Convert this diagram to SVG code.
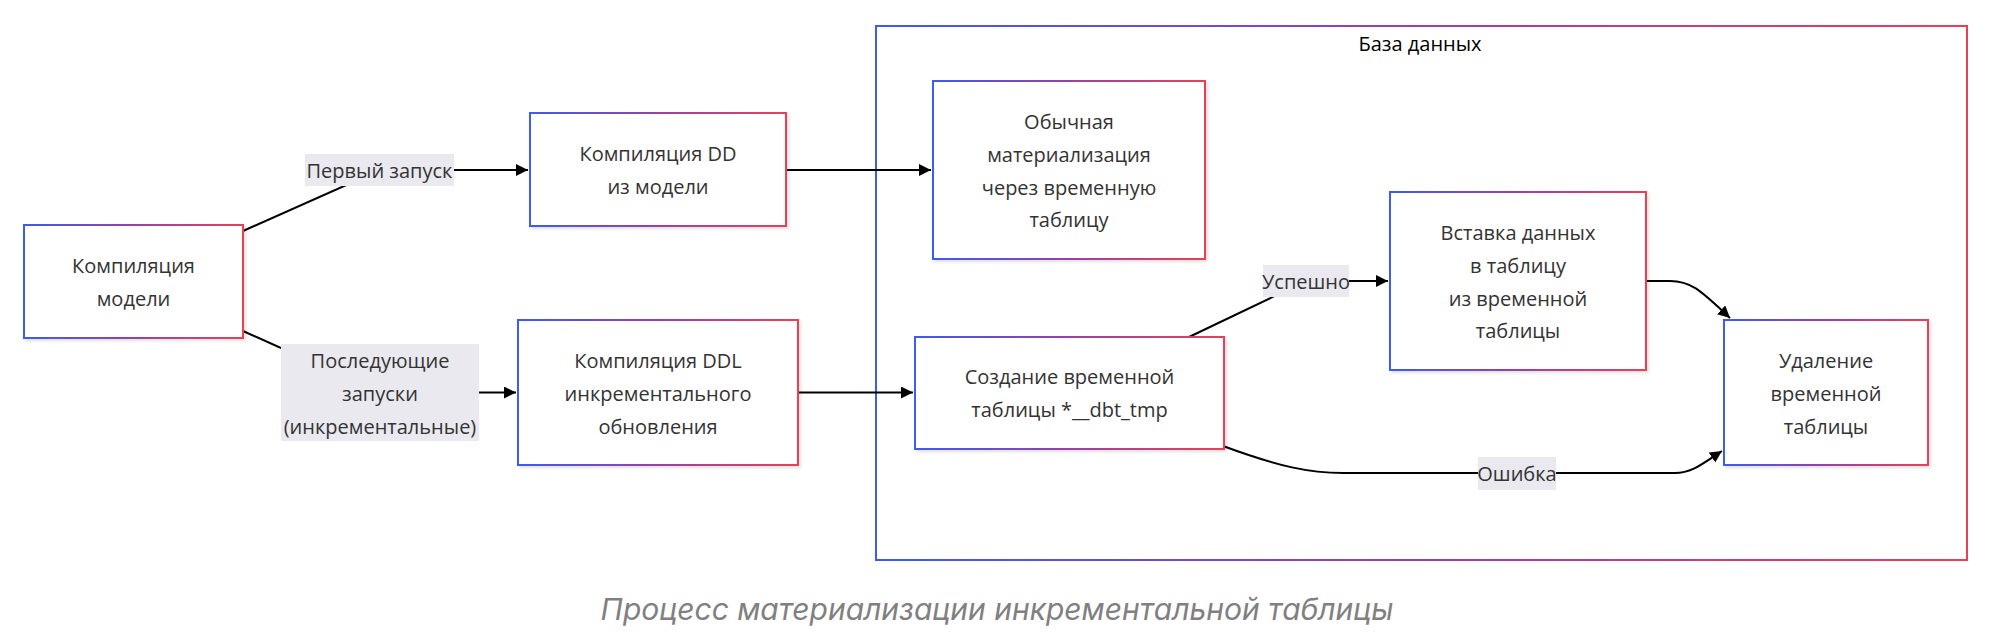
<svg xmlns="http://www.w3.org/2000/svg" width="1996" height="642" viewBox="0 0 1996 642">
<defs>
<linearGradient id="grad" x1="0" y1="0" x2="1" y2="0">
<stop offset="0" stop-color="#3b5bf5"/>
<stop offset="0.5" stop-color="#9b3fa8"/>
<stop offset="1" stop-color="#ea3f56"/>
</linearGradient>
<filter id="shadow" x="-5%" y="-5%" width="112%" height="115%">
<feDropShadow dx="2" dy="2" stdDeviation="1.5" flood-color="#000" flood-opacity="0.12"/>
</filter>
<marker id="arrow" markerUnits="userSpaceOnUse" markerWidth="13" markerHeight="13" refX="12" refY="6" orient="auto">
<path d="M0,0 L12,6 L0,12 z" fill="#000"/>
</marker>
</defs>
<style>
.node rect { fill: #ffffff; stroke: url(#grad); stroke-width: 2; filter: url(#shadow); }
.cluster rect { fill: #ffffff; stroke: url(#grad); stroke-width: 2; }
.nt { font-family: "Open Sans", "DejaVu Sans", sans-serif; font-size: 20px; fill: #333333; text-anchor: middle; dominant-baseline: central; }
.ct { font-family: "Open Sans", "DejaVu Sans", sans-serif; font-size: 20px; fill: #000000; text-anchor: middle; dominant-baseline: central; }
.edge { fill: none; stroke: #000; stroke-width: 2; }
.lbl rect { fill: #e9e9ef; }
.cap { font-family: Inter, "Noto Sans", sans-serif; font-style: italic; font-size: 30px; fill: #808080; text-anchor: middle; dominant-baseline: central; }
</style>
<rect width="1996" height="642" fill="#ffffff"/>

<g id="cluster-db" class="cluster">
<rect x="876" y="26" width="1091" height="534"/>
<text class="ct" x="1420" y="43">База данных</text>
</g>

<g id="edges">
<path class="edge" d="M243,231 L380,170 L528,170" marker-end="url(#arrow)"/>
<path class="edge" d="M243,331 L380,392.5 L516,392.5" marker-end="url(#arrow)"/>
<path class="edge" d="M786,170 L931,170" marker-end="url(#arrow)"/>
<path class="edge" d="M798,392.5 L913,392.5" marker-end="url(#arrow)"/>
<path class="edge" d="M1189,337 L1306,281 L1388,281" marker-end="url(#arrow)"/>
<path class="edge" d="M1646,281 L1670,281 C1692,281 1702,292 1730,318" marker-end="url(#arrow)"/>
<path class="edge" d="M1223,446 C1280,467 1310,473 1343,473 L1675,473 C1692,473 1702,464 1722,451" marker-end="url(#arrow)"/>
</g>

<g id="label-first" class="lbl">
<rect x="305" y="154" width="149" height="32"/>
<text class="nt" x="379.5" y="170">Первый запуск</text>
</g>
<g id="label-next" class="lbl">
<rect x="281" y="344" width="198" height="97"/>
<text class="nt" x="380" y="360">Последующие</text>
<text class="nt" x="380" y="393">запуски</text>
<text class="nt" x="380" y="426">(инкрементальные)</text>
</g>
<g id="label-ok" class="lbl">
<rect x="1263" y="265" width="86" height="32"/>
<text class="nt" x="1306" y="281">Успешно</text>
</g>
<g id="label-err" class="lbl">
<rect x="1478" y="457" width="78" height="33"/>
<text class="nt" x="1517" y="473">Ошибка</text>
</g>

<g id="node-compile" class="node">
<rect x="24" y="225" width="219" height="113"/>
<text class="nt" x="133.5" y="265">Компиляция</text>
<text class="nt" x="133.5" y="298">модели</text>
</g>
<g id="node-dd" class="node">
<rect x="530" y="113" width="256" height="113"/>
<text class="nt" x="658" y="153.5">Компиляция DD</text>
<text class="nt" x="658" y="186.5">из модели</text>
</g>
<g id="node-ddl" class="node">
<rect x="518" y="320" width="280" height="145"/>
<text class="nt" x="658" y="360">Компиляция DDL</text>
<text class="nt" x="658" y="393">инкрементального</text>
<text class="nt" x="658" y="426">обновления</text>
</g>
<g id="node-regular" class="node">
<rect x="933" y="81" width="272" height="178"/>
<text class="nt" x="1069" y="121">Обычная</text>
<text class="nt" x="1069" y="154">материализация</text>
<text class="nt" x="1069" y="187">через временную</text>
<text class="nt" x="1069" y="219">таблицу</text>
</g>
<g id="node-create" class="node">
<rect x="915" y="337" width="309" height="112"/>
<text class="nt" x="1069.5" y="376.5">Создание временной</text>
<text class="nt" x="1069.5" y="409">таблицы *__dbt_tmp</text>
</g>
<g id="node-insert" class="node">
<rect x="1390" y="192" width="256" height="178"/>
<text class="nt" x="1518" y="232">Вставка данных</text>
<text class="nt" x="1518" y="265">в таблицу</text>
<text class="nt" x="1518" y="298">из временной</text>
<text class="nt" x="1518" y="330">таблицы</text>
</g>
<g id="node-drop" class="node">
<rect x="1724" y="320" width="204" height="145"/>
<text class="nt" x="1826" y="360">Удаление</text>
<text class="nt" x="1826" y="393">временной</text>
<text class="nt" x="1826" y="426">таблицы</text>
</g>

<text class="cap" x="997" y="609">Процесс материализации инкрементальной таблицы</text>
</svg>
